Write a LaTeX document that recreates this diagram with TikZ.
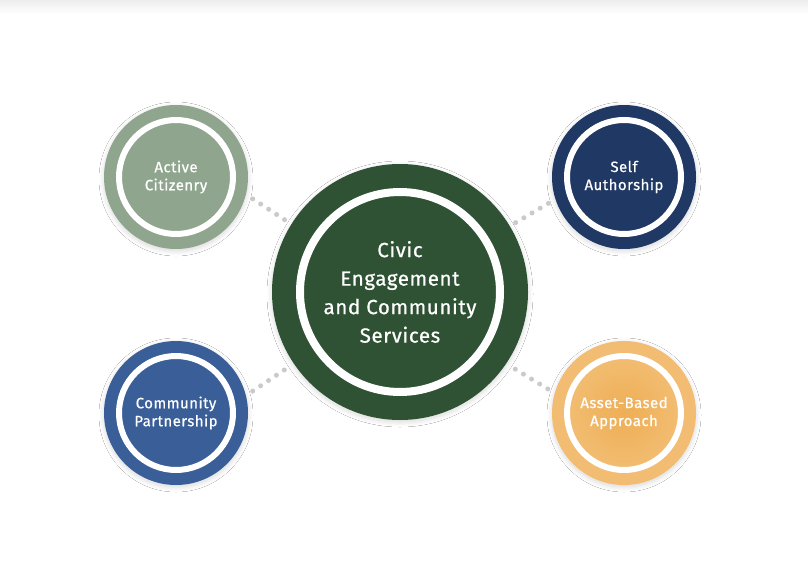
\documentclass[tikz,border=0pt]{standalone}
\usepackage{fontspec}
\setmainfont{Fira Sans}
\newfontfamily\medfont{Fira Sans}[UprightFeatures={FakeBold=0.6}, LetterSpace=3]
\usetikzlibrary{shadows.blur}
\definecolor{sage}{HTML}{8FA58E}
\definecolor{forest}{HTML}{2E5233}
\definecolor{navy}{HTML}{1F3864}
\definecolor{steel}{HTML}{3A5E97}
\definecolor{apricot}{HTML}{F2BD72}
\definecolor{apricotdeep}{HTML}{EEAE55}
\definecolor{dotgray}{HTML}{CACACA}

\tikzset{
  bubble/.style={circle, fill=#1, minimum size=144pt, inner sep=0pt,
    blur shadow={shadow xshift=0pt, shadow yshift=-2pt, shadow blur radius=5pt,
      shadow blur steps=10, shadow opacity=16}},
  ring/.style={circle, draw=white, line width=6pt, fill=#1, minimum size=114pt, inner sep=0pt,
    text=white, align=center, font=\medfont\fontsize{15}{18}\selectfont},
  ring/.default=none,
  dots/.style={draw=dotgray, line width=5pt, line cap=round, dash pattern=on 0pt off 9.5pt,
    shorten <=8pt, shorten >=4pt}
}

\begin{document}
\begin{tikzpicture}[x=1pt, y=-1pt]
\fill [white] (0,0) rectangle (808,578);
\shade [top color=black!7, bottom color=white] (0,0) rectangle (808,14);
\useasboundingbox (0,0) rectangle (808,578);

% connectors first
\coordinate (hubc) at (400,292);
\node [bubble=sage] (ac) at (176,177) {};
\node [bubble=navy] (sa) at (624,177) {};
\node [bubble=steel] (cp) at (176,413) {};
\node [bubble=apricot] (ab) at (624,413) {};
\node [circle, minimum size=256pt, inner sep=0pt] (hub) at (hubc) {};

\draw [dots] (ac.-14) -- (hub.148);
\draw [dots] (sa.198) -- (hub.31);
\draw [dots] (cp.14) -- (hub.-146);
\draw [dots] (ab.164) -- (hub.-34);

% centre
\node [bubble=forest, minimum size=256pt] at (hubc) {};
\node [ring=forest, line width=8pt, minimum size=200pt, font=\medfont\fontsize{20.5}{28.5}\selectfont] (hubtxt) at (hubc)
  {Civic\\Engagement\\and Community\\Services};

% outer bubbles
\node [ring=sage] (actxt) at (ac) {Active\\Citizenry};
\node [ring=navy] (satxt) at (sa) {Self\\Authorship};
\node [ring=steel] (cptxt) at (cp) {Community\\Partnership};
\node [ring, inner color=apricotdeep, outer color=apricot] (abtxt) at (ab) {Asset-Based\\Approach};

\end{tikzpicture}
\end{document}
